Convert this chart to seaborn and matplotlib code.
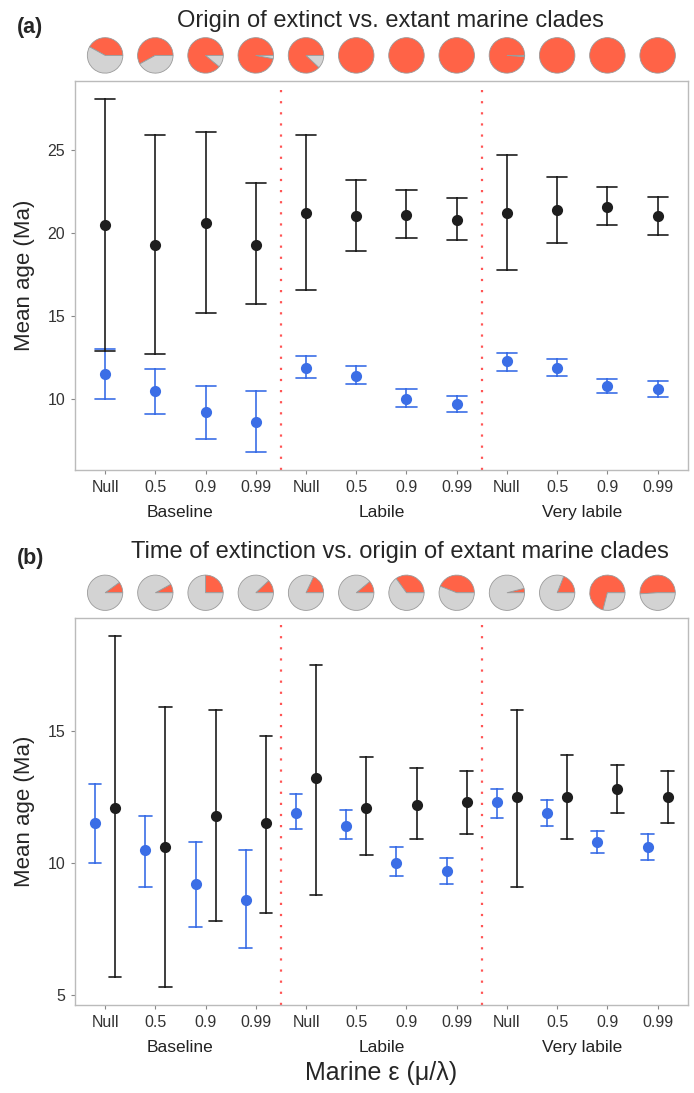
import numpy as np
import pandas as pd
import matplotlib
matplotlib.use("Agg")
import matplotlib.pyplot as plt
import seaborn as sns

# categories
groups = ["Baseline", "Labile", "Very labile"]
eps_levels = ["Null", "0.5", "0.9", "0.99"]

# (a) origin of extinct clades: low / mean / high
a_ext_lo = [12.9, 12.7, 15.2, 15.7, 16.6, 18.9, 19.7, 19.6, 17.8, 19.4, 20.5, 19.9]
a_ext_mid = [20.5, 19.3, 20.6, 19.3, 21.2, 21.0, 21.1, 20.8, 21.2, 21.4, 21.6, 21.0]
a_ext_hi = [28.1, 25.9, 26.1, 23.0, 25.9, 23.2, 22.6, 22.1, 24.7, 23.4, 22.8, 22.2]

# origin of extant clades (same in both panels)
extant_lo = [10.0, 9.1, 7.6, 6.8, 11.3, 10.9, 9.5, 9.2, 11.7, 11.4, 10.4, 10.1]
extant_mid = [11.5, 10.5, 9.2, 8.6, 11.9, 11.4, 10.0, 9.7, 12.3, 11.9, 10.8, 10.6]
extant_hi = [13.0, 11.8, 10.8, 10.5, 12.6, 12.0, 10.6, 10.2, 12.8, 12.4, 11.2, 11.1]

# (b) time of extinction
b_ext_lo = [5.7, 5.3, 7.8, 8.1, 8.8, 10.3, 10.9, 11.1, 9.1, 10.9, 11.9, 11.5]
b_ext_mid = [12.1, 10.6, 11.8, 11.5, 13.2, 12.1, 12.2, 12.3, 12.5, 12.5, 12.8, 12.5]
b_ext_hi = [18.6, 15.9, 15.8, 14.8, 17.5, 14.0, 13.6, 13.5, 15.8, 14.1, 13.7, 13.5]

# pie fractions (red share)
pie_a = [0.42, 0.58, 0.89, 0.97, 0.88, 1.0, 1.0, 1.0, 0.99, 1.0, 1.0, 1.0]
pie_b = [0.10, 0.08, 0.25, 0.12, 0.18, 0.11, 0.35, 0.44, 0.04, 0.19, 0.71, 0.51]

conds = [f"{g}|{e}" for g in groups for e in eps_levels]

RED = "#FF6347"
GREY = "#D3D3D3"
BLUE = "#3B6EE6"
BLACK = "#1e1e1e"


def long_table(lo, mid, hi, name):
    rows = []
    for c, l, m, h in zip(conds, lo, mid, hi):
        for v in (l, m, h):
            rows.append({"cond": c, "age": v, "clade": name})
    return rows


sns.set_style("white")
plt.rcParams["font.family"] = ["Liberation Sans", "DejaVu Sans"]

fig = plt.figure(figsize=(6.94, 10.93), dpi=100)
ax_a = fig.add_axes([0.108, 0.570, 0.883, 0.356])
ax_b = fig.add_axes([0.108, 0.0805, 0.883, 0.354])

panels = [
    (ax_a, a_ext_lo, a_ext_mid, a_ext_hi, pie_a, False, "(a)",
     "Origin of extinct vs. extant marine clades", [10, 15, 20, 25],
     0.515, 1.153, 1.137),
    (ax_b, b_ext_lo, b_ext_mid, b_ext_hi, pie_b, 0.4, "(b)",
     "Time of extinction vs. origin of extant marine clades", [5, 10, 15],
     0.53, 1.17, 1.155),
]

for ax, lo, mid, hi, pies, dodge, tag, title, yt, tx, ty, tagy in panels:
    df = pd.DataFrame(long_table(extant_lo, extant_mid, extant_hi, "extant")
                      + long_table(lo, mid, hi, "extinct"))
    sns.pointplot(data=df, x="cond", y="age", hue="clade", order=conds,
                  hue_order=["extant", "extinct"],
                  palette={"extant": BLUE, "extinct": BLACK},
                  estimator="median", errorbar=("pi", 100),
                  capsize=0.4 if not dodge else 0.25, linestyle="none",
                  markers="o", markersize=6, dodge=dodge,
                  err_kws={"linewidth": 1.2}, legend=False, ax=ax)

    for xv in (3.5, 7.5):
        ax.axvline(xv, color="#FF5555", linestyle=(0, (1, 4)), linewidth=1.6)

    allv = lo + hi + extant_lo + extant_hi
    rng = max(allv) - min(allv)
    ax.set_ylim(min(allv) - 0.05 * rng, max(allv) + 0.05 * rng)
    ax.set_xlim(-0.6, 11.6)
    ax.set_yticks(yt)
    ax.set_xticks(range(12))
    ax.set_xticklabels(eps_levels * 3)
    ax.tick_params(axis="both", length=3, color="#888888", labelsize=11.5,
                   labelcolor="#333333", pad=4, bottom=True, left=True)
    ax.set_xlabel("")
    ax.set_ylabel("Mean age (Ma)", fontsize=16, labelpad=9)
    for sp in ax.spines.values():
        sp.set_color("#BBBBBB")
        sp.set_linewidth(1.0)

    for gi, g in enumerate(groups):
        ax.text(gi * 4 + 1.5, -0.11, g, transform=ax.get_xaxis_transform(),
                ha="center", va="center", fontsize=12.5, color="#222222")

    # pies above each condition
    for i, f in enumerate(pies):
        pax = ax.inset_axes([i - 0.37, 1.018, 0.74, 0.095],
                            transform=ax.get_xaxis_transform())
        vals = [v for v in (f, 1 - f) if v > 0]
        cols = [c for v, c in zip((f, 1 - f), (RED, GREY)) if v > 0]
        pax.pie(vals, colors=cols, startangle=0, counterclock=True,
                radius=1.2,
                wedgeprops={"edgecolor": "#9a9a9a", "linewidth": 0.6})
        pax.set_aspect("equal")
        pax.axis("off")

    ax.text(tx, ty, title, transform=ax.transAxes, ha="center",
            va="center", fontsize=17)
    ax.text(-0.095, tagy, tag, transform=ax.transAxes, ha="left",
            va="center", fontsize=15.5, fontweight="bold")

ax_b.text(0.5, -0.175, "Marine ε (μ/λ)", transform=ax_b.transAxes,
          ha="center", va="center", fontsize=18)

fig.savefig("out.png", dpi=100)
